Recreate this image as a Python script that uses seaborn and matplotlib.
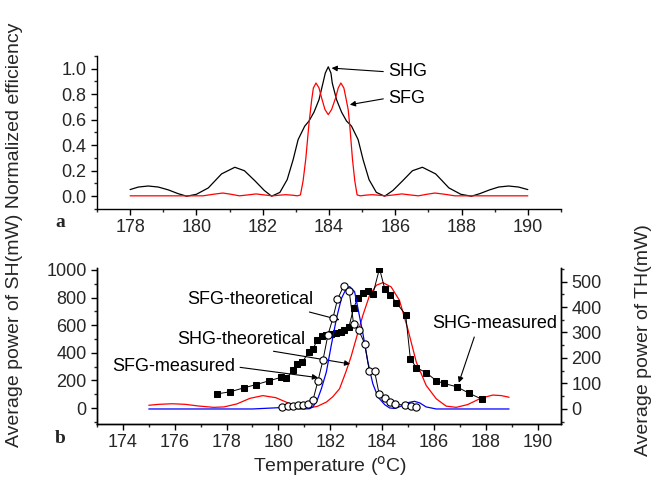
import numpy as np
import pandas as pd
import matplotlib
matplotlib.use("Agg")
import matplotlib.pyplot as plt
import seaborn as sns
from matplotlib.ticker import MultipleLocator, FormatStrFormatter

sns.set_theme(style="ticks")
plt.rcParams['font.family'] = ['Liberation Sans', 'DejaVu Sans']

# ---------------- data ----------------
# panel a : normalized efficiency vs temperature
a_shg_T = [178.0, 178.25, 178.55, 178.85, 179.15, 179.45, 179.71, 180.0, 180.36, 180.76,
           181.16, 181.45, 181.77, 182.05, 182.27, 182.52, 182.74, 182.92, 183.07, 183.27,
           183.40, 183.55, 183.70, 183.82, 183.89, 183.98, 184.06, 184.10, 184.23, 184.38,
           184.53, 184.68, 184.88, 185.03, 185.21, 185.43, 185.68, 185.93, 186.22, 186.52,
           186.82, 187.22, 187.62, 187.98, 188.30, 188.55, 188.85, 189.12, 189.42, 189.72,
           190.0]
a_shg_v = [0.052, 0.072, 0.080, 0.072, 0.050, 0.020, 0.0, 0.015, 0.065, 0.175,
           0.227, 0.200, 0.120, 0.045, 0.0, 0.030, 0.130, 0.287, 0.444, 0.550,
           0.590, 0.660, 0.757, 0.888, 0.966, 1.015, 0.966, 0.888, 0.757, 0.660,
           0.590, 0.550, 0.444, 0.287, 0.130, 0.030, 0.0, 0.045, 0.120, 0.200,
           0.227, 0.175, 0.065, 0.015, 0.0, 0.020, 0.050, 0.072, 0.080, 0.072,
           0.052]

a_sfg_T = [178.0, 180.2, 180.5, 180.8, 181.05, 181.3, 181.55, 181.8, 182.05, 182.3,
           182.5, 182.7, 182.9, 183.05, 183.14, 183.22, 183.30, 183.40, 183.48, 183.53,
           183.61, 183.70, 183.78, 183.88, 183.98, 184.08, 184.20, 184.28, 184.36, 184.45,
           184.52, 184.58, 184.63, 184.71, 184.78, 184.85, 184.95, 185.1, 185.3, 185.5,
           185.7, 185.95, 186.2, 186.45, 186.7, 186.95, 187.2, 187.5, 187.8, 190.0]
a_sfg_v = [0.003, 0.003, 0.015, 0.025, 0.015, 0.003, 0.010, 0.018, 0.010, 0.003,
           0.008, 0.012, 0.008, 0.003, 0.010, 0.120, 0.290, 0.575, 0.757, 0.849,
           0.888, 0.849, 0.770, 0.680, 0.640, 0.680, 0.770, 0.849, 0.888, 0.849,
           0.760, 0.680, 0.550, 0.290, 0.120, 0.010, 0.003, 0.008, 0.012, 0.008,
           0.003, 0.010, 0.018, 0.010, 0.003, 0.015, 0.025, 0.015, 0.003, 0.003]

# panel b : measured SH (left axis, mW)
b_shg_meas_T = [177.65, 178.15, 178.66, 179.15, 179.65, 180.1, 180.3, 180.56, 180.72, 180.92,
                181.18, 181.33, 181.49, 181.70, 181.85, 182.04, 182.24, 182.40, 182.55, 182.72,
                182.90, 183.07, 183.26, 183.45, 183.65, 183.90, 184.10, 184.32, 184.55, 184.91,
                185.09, 185.32, 185.70, 186.09, 186.37, 186.88, 187.37, 187.86]
b_shg_meas_P = [103, 118, 146, 170, 198, 222, 214, 273, 321, 333,
                406, 425, 490, 520, 531, 538, 546, 553, 563, 587,
                722, 800, 830, 845, 828, 1010, 865, 818, 763, 675,
                358, 293, 256, 198, 179, 154, 106, 63]

# panel b : measured TH (right axis, mW)
b_sfg_meas_T = [180.15, 180.37, 180.56, 180.76, 180.95, 181.14, 181.33, 181.53, 181.72, 181.91,
                182.10, 182.28, 182.52, 182.73, 182.90, 183.10, 183.33, 183.51, 183.71, 183.89,
                184.10, 184.29, 184.50, 184.88, 185.10, 185.30]
b_sfg_meas_P = [8, 10, 13, 15, 17, 21, 34, 111, 192, 290,
                355, 430, 483, 462, 335, 309, 256, 148, 148, 57,
                44, 26, 19, 15, 12, 8]

# panel b : theoretical SHG (left-axis units)
b_shg_th_T = [175.0, 175.4, 175.9, 176.4, 176.9, 177.5, 177.9, 178.4, 178.9, 179.4,
              179.9, 180.4, 180.9, 181.2, 181.5, 181.85, 182.1, 182.36, 182.6, 182.8,
              183.0, 183.26, 183.52, 183.78, 184.03, 184.35, 184.67, 184.99, 185.32, 185.7,
              186.09, 186.47, 186.86, 187.3, 187.8, 188.27, 188.6, 188.9]
b_shg_th_P = [20, 27, 31, 27, 15, 5, 8, 30, 70, 90,
              75, 35, 8, 2, 12, 43, 82, 140, 260, 370,
              502, 672, 817, 889, 908, 877, 780, 574, 333, 164,
              67, 14, 5, 25, 70, 94, 90, 78]

# panel b : theoretical SFG (right-axis units)
b_sfg_th_T = [175.0, 177.0, 179.0, 179.6, 180.0, 180.4, 180.9, 181.2, 181.33, 181.5,
              181.66, 181.85, 182.04, 182.24, 182.43, 182.62, 182.75, 182.94, 183.07, 183.26,
              183.45, 183.64, 183.84, 184.10, 184.29, 184.5, 184.8, 185.05, 185.25, 185.45,
              185.7, 186.09, 187.0, 188.9]
b_sfg_th_P = [0, 0, 0, 3, 5, 3, 0, 1, 8, 35,
              80, 145, 250, 355, 433, 473, 480, 460, 394, 296,
              185, 100, 47, 17, 4, 2, 14, 26, 30, 24,
              8, 0, 0, 0]

# ---------------- figure ----------------
fig = plt.figure(figsize=(6.55, 4.94), dpi=100)
fig.patch.set_facecolor('white')
axA = fig.add_axes([0.148, 0.577, 0.7084, 0.3097])
axB = fig.add_axes([0.148, 0.1427, 0.7084, 0.3148])
axR = axB.twinx()

LW = 0.9
sns.lineplot(x=a_shg_T, y=a_shg_v, ax=axA, color='black', lw=LW, sort=False, estimator=None)
sns.lineplot(x=a_sfg_T, y=a_sfg_v, ax=axA, color='red', lw=LW, sort=False, estimator=None)

sns.lineplot(x=b_shg_th_T, y=b_shg_th_P, ax=axB, color='red', lw=LW, sort=False, estimator=None)
sns.lineplot(x=b_shg_meas_T, y=b_shg_meas_P, ax=axB, color='black', lw=0.7, sort=False,
             estimator=None, marker='s', markersize=4.9, markeredgecolor='black',
             markerfacecolor='black')
sns.lineplot(x=b_sfg_th_T, y=b_sfg_th_P, ax=axR, color='blue', lw=LW, sort=False, estimator=None)
sns.lineplot(x=b_sfg_meas_T, y=b_sfg_meas_P, ax=axR, color='black', lw=0.7, sort=False,
             estimator=None, marker='o', markersize=5.2, markeredgecolor='black',
             markerfacecolor='white', markeredgewidth=0.8)

FS = 13
tick_kw = dict(direction='out', labelsize=FS, width=1.0, color='black')

# panel a axes
axA.set_xlim(177.0, 191.0)
axA.set_ylim(-0.1, 1.1)
axA.xaxis.set_minor_locator(MultipleLocator(1))
axA.yaxis.set_minor_locator(MultipleLocator(0.1))
axA.set_xticks([178, 180, 182, 184, 186, 188, 190])
axA.set_yticks([0.0, 0.2, 0.4, 0.6, 0.8, 1.0])
axA.yaxis.set_major_formatter(FormatStrFormatter('%.1f'))
axA.tick_params(which='major', length=4, **tick_kw)
axA.tick_params(which='minor', length=2.5, direction='out', width=1.0)
for s in ['top', 'right']:
    axA.spines[s].set_visible(False)
for s in ['left', 'bottom']:
    axA.spines[s].set_linewidth(1.0)
    axA.spines[s].set_color('black')
axA.set_xlabel('')
axA.set_ylabel('')

# panel b axes
axB.set_xlim(173.0, 190.9)
axB.set_ylim(-112, 1014)
axR.set_ylim(-57, 553)
axB.set_xticks([174, 176, 178, 180, 182, 184, 186, 188, 190])
axB.xaxis.set_minor_locator(MultipleLocator(1))
axB.set_yticks([0, 200, 400, 600, 800, 1000])
axB.yaxis.set_minor_locator(MultipleLocator(100))
axR.set_yticks([0, 100, 200, 300, 400, 500])
axR.yaxis.set_minor_locator(MultipleLocator(50))
for ax in (axB, axR):
    ax.tick_params(which='major', length=4, **tick_kw)
    ax.tick_params(which='minor', length=2.5, direction='out', width=1.0)
    ax.spines['top'].set_visible(False)
    for s in ['left', 'bottom', 'right']:
        ax.spines[s].set_linewidth(1.0)
        ax.spines[s].set_color('black')
    ax.set_xlabel('')
    ax.set_ylabel('')
axR.tick_params(axis='y', which='both', right=True, left=False)
axB.tick_params(axis='y', which='both', right=False)

# annotations
arrow = dict(arrowstyle='-|>', color='black', lw=0.8, mutation_scale=8, shrinkA=1, shrinkB=0)
tkw = dict(fontsize=FS, color='black')

axA.annotate('SHG', xy=(184.08, 1.005), xytext=(185.78, 0.975), ha='left', va='center',
             arrowprops=dict(arrow, relpos=(0, 0.5)), **tkw)
axA.annotate('SFG', xy=(184.63, 0.718), xytext=(185.78, 0.77), ha='left', va='center',
             arrowprops=dict(arrow, relpos=(0, 0.5)), **tkw)

axB.annotate('SFG-theoretical', xy=(182.36, 638), xytext=(178.91, 783), ha='center', va='center',
             arrowprops=dict(arrow, relpos=(0.86, 0.0)), **tkw)
axB.annotate('SHG-theoretical', xy=(182.77, 319), xytext=(178.55, 498), ha='center', va='center',
             arrowprops=dict(arrow, relpos=(0.59, 0.0)), **tkw)
axB.annotate('SFG-measured', xy=(181.53, 220), xytext=(175.97, 299), ha='center', va='center',
             arrowprops=dict(arrow, relpos=(1.0, 0.5)), **tkw)
axB.annotate('SHG-measured', xy=(186.96, 183), xytext=(188.34, 609), ha='center', va='center',
             arrowprops=dict(arrow, relpos=(0.35, 0.0)), **tkw)

# panel letters
fig.text(60 / 655, 1 - 222 / 494, 'a', family='Liberation Serif', weight='bold', fontsize=14,
         ha='center', va='center')
fig.text(60 / 655, 1 - 438 / 494, 'b', family='Liberation Serif', weight='bold', fontsize=14,
         ha='center', va='center')

# axis labels
fig.text(15 / 655, 1 - 235 / 494, 'Average power of SH(mW) Normalized efficiency', rotation=90,
         fontsize=14, ha='center', va='center')
fig.text(643 / 655, 1 - 340 / 494, 'Average power of TH(mW)', rotation=90,
         fontsize=14, ha='center', va='center')
fig.text(330 / 655, 1 - 466 / 494, 'Temperature ($^{\\rm o}$C)', fontsize=14,
         ha='center', va='center')

fig.savefig('out.png', dpi=100, facecolor='white')
